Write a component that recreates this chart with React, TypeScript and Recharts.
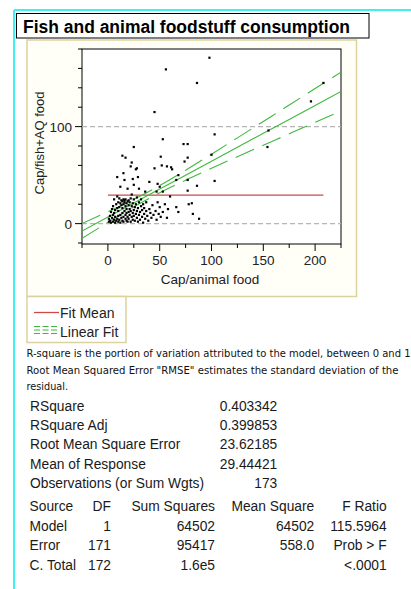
import React from 'react';
import { ComposedChart, Scatter, Line, XAxis, YAxis, ReferenceLine } from 'recharts';

const FONT = '"Liberation Sans", Arial, sans-serif';
const SMALL_FONT = '"DejaVu Sans", Verdana, sans-serif';
const GREEN = '#3fb83f';
const RED = '#cc4a4a';
const TAN = '#dcd29e';

// axis ticks
const xTicks = [-25, 0, 25, 50, 75, 100, 125, 150, 175, 200, 225];
const xTickLabels = [0, 50, 100, 150, 200];
const yTicks = [-20, 0, 20, 40, 60, 80, 100, 120, 140, 160, 180];
const yTickLabels = [0, 100];
const yRefLines = [0, 100];

// Fit mean
const fitMeanX = [0, 208];
const fitMeanY = 29.44421;

// Linear fit with confidence band
const fitX = [-25, 0, 25, 50, 75, 100, 125, 150, 175, 200, 225];
const fitCenter = [-7.6, 6.8, 21.2, 35.6, 49.9, 64.3, 78.7, 93.1, 107.4, 121.8, 136.2];
const fitUpper = [0.1, 12.3, 25.0, 39.3, 55.1, 71.6, 88.4, 105.3, 122.2, 139.2, 156.2];
const fitLower = [-15.3, 1.3, 17.3, 31.8, 44.8, 57.0, 69.0, 80.8, 92.6, 104.4, 116.2];

// scatter points [Cap/animal food, Cap/fish+AQ food]
const upperPoints: number[][] = [
  [98, 171], [56, 159], [86, 145], [45, 115], [208, 145], [196, 126], [155, 96], [154, 79],
  [103, 92], [53, 87], [73, 82], [77, 82], [25, 79], [77, 68], [74, 64], [100, 71],
  [51, 69], [52, 60], [57, 59], [61, 58], [62, 56], [45, 57], [14, 70], [17, 68],
  [23, 63], [22, 59], [27, 56], [28, 57], [9, 48], [15, 52], [16, 45], [24, 46],
  [29, 48], [12, 38], [25, 40], [19, 36], [30, 36], [40, 43], [36, 33], [48, 41],
  [50, 38], [47, 33], [53, 33], [68, 50], [66, 45], [77, 45], [86, 39], [103, 44],
  [77, 34], [60, 28], [66, 17], [68, 12], [78, 20], [81, 21], [82, 10], [88, 5],
];
const clusterPoints: number[][] = [
  [1, 2], [1, 5], [2, 8], [2, 3], [3, 12], [3, 1], [4, 6], [4, 15], [5, 2], [5, 9], [5, 18],
  [6, 4], [6, 11], [6, 25], [7, 1], [7, 7], [7, 14], [8, 3], [8, 20], [9, 5], [9, 16],
  [9, 28], [10, 2], [10, 8], [10, 13], [10, 22],
  [11, 4], [11, 17], [11, 26], [12, 1], [12, 9], [12, 21], [13, 6], [13, 19], [13, 24],
  [14, 3], [14, 11], [14, 16], [14, 23], [15, 7], [15, 20], [15, 25], [15, 2], [16, 13],
  [16, 22], [16, 24], [17, 5], [17, 18], [17, 9], [17, 25], [18, 3], [18, 15], [18, 21],
  [18, 11], [19, 23], [19, 7], [19, 2], [20, 12], [20, 24], [20, 5], [20, 19],
  [21, 9], [21, 15], [21, 22], [22, 2], [22, 26], [22, 13], [23, 7], [23, 18], [23, 30],
  [24, 4], [24, 11], [24, 21], [25, 14], [25, 8], [25, 25], [26, 3], [26, 17], [27, 10],
  [27, 20], [28, 6], [28, 13], [28, 27], [29, 2], [29, 16], [30, 9], [30, 22],
  [31, 12], [31, 4], [32, 18], [32, 25], [33, 7], [33, 14], [34, 1], [34, 20], [35, 10],
  [35, 16], [36, 5], [37, 13], [37, 22], [38, 8], [39, 3], [40, 15], [41, 11], [42, 6],
  [43, 19], [44, 9],
  [46, 13], [47, 4], [48, 22], [49, 10], [50, 17], [51, 7], [53, 12], [55, 20], [57, 6], [58, 15],
];

// stats text
const noteLines = [
  'R-square is the portion of variation attributed to the model, between 0 and 1',
  'Root Mean Squared Error "RMSE" estimates the standard deviation of the',
  'residual.',
];
const summaryLabels = ['RSquare', 'RSquare Adj', 'Root Mean Square Error', 'Mean of Response', 'Observations (or Sum Wgts)'];
const summaryValues = ['0.403342', '0.399853', '23.62185', '29.44421', '173'];
const anovaHeader = ['Source', 'DF', 'Sum Squares', 'Mean Square', 'F Ratio'];
const anovaRows = [
  ['Model', '1', '64502', '64502', '115.5964'],
  ['Error', '171', '95417', '558.0', 'Prob > F'],
  ['C. Total', '172', '1.6e5', '', '<.0001'],
];

const scatterData = [...upperPoints, ...clusterPoints].map(([x, y]) => ({ x, y }));
const fitData = fitX.map((x, i) => ({ x, c: fitCenter[i], u: fitUpper[i], l: fitLower[i] }));
const meanData = fitMeanX.map((x) => ({ x, m: fitMeanY }));

const XTick = (props: any) => {
  const { x, y, payload } = props;
  const major = xTickLabels.includes(payload.value);
  return (
    <g>
      <line x1={x} x2={x} y1={y} y2={y + (major ? 7 : 4)} stroke="#000" strokeWidth={1} />
      {major && (
        <text x={x} y={y + 21} textAnchor="middle" fontSize={13.5} fontFamily={FONT} fill="#222">
          {payload.value}
        </text>
      )}
    </g>
  );
};

const YTick = (props: any) => {
  const { x, y, payload } = props;
  const major = yTickLabels.includes(payload.value);
  return (
    <g>
      <line x1={x - (major ? 7 : 4)} x2={x} y1={y} y2={y} stroke="#000" strokeWidth={1} />
      {major && (
        <text x={x - 10} y={y + 5} textAnchor="end" fontSize={13.5} fontFamily={FONT} fill="#222">
          {payload.value}
        </text>
      )}
    </g>
  );
};

const Dot = (props: any) => {
  const { cx, cy } = props;
  return <rect x={cx - 1.1} y={cy - 1.1} width={2.2} height={2.2} fill="#000" />;
};

const PLOT = { left: 82, top: 49, right: 341, bottom: 244 };

export default function App() {
  const tableRight = [111, 215, 314.3, 386.7];
  return (
    <div style={{ position: 'absolute', left: 0, top: 0, width: 411, height: 589, background: '#fff', overflow: 'hidden' }}>
      <svg width={411} height={589} style={{ position: 'absolute', left: 0, top: 0 }}>
        {/* cyan frame */}
        <line x1={14} y1={10} x2={411} y2={10} stroke="#3ff0f0" strokeWidth={2} />
        <line x1={14} y1={10} x2={14} y2={589} stroke="#3ff0f0" strokeWidth={2} />
        {/* title */}
        <rect x={16.5} y={13.5} width={352.5} height={24.5} fill="#fff" stroke="#000" strokeWidth={1} />
        <text x={23} y={33} fontSize={17.5} fontWeight="bold" fontFamily={FONT} fill="#000" textLength={327} lengthAdjust="spacingAndGlyphs">
          Fish and animal foodstuff consumption
        </text>
        {/* chart frame */}
        <rect x={27} y={40} width={329.5} height={256.5} fill="#fffef7" stroke={TAN} strokeWidth={1.5} />
        <rect x={PLOT.left} y={PLOT.top} width={PLOT.right - PLOT.left} height={PLOT.bottom - PLOT.top} fill="#fff" stroke="#000" strokeWidth={1} />
        {/* axis titles */}
        <text x={210} y={284} textAnchor="middle" fontSize={13.5} fontFamily={FONT} fill="#222">Cap/animal food</text>
        <text x={0} y={0} transform="translate(44,143) rotate(-90)" textAnchor="middle" fontSize={13} fontFamily={FONT} fill="#222">Cap/fish+AQ food</text>
        {/* legend */}
        <rect x={27} y={296.5} width={99} height={46} fill="#fff" stroke={TAN} strokeWidth={1.5} />
        <line x1={34} x2={59} y1={312.5} y2={312.5} stroke={RED} strokeWidth={1.3} />
        <text x={60} y={318} fontSize={14} fontFamily={FONT} fill="#222">Fit Mean</text>
        {[326.5, 330, 333.5].map((yy) => (
          <line key={yy} x1={34} x2={59} y1={yy} y2={yy} stroke={GREEN} strokeWidth={1} strokeDasharray="6 2.5" />
        ))}
        <text x={60} y={337} fontSize={14} fontFamily={FONT} fill="#222">Linear Fit</text>
        {/* notes */}
        <text x={26.5} y={357} fontSize={10} fontFamily={SMALL_FONT} fill="#111" textLength={384} lengthAdjust="spacingAndGlyphs">{noteLines[0]}</text>
        <text x={26.5} y={373.5} fontSize={10} fontFamily={SMALL_FONT} fill="#111" textLength={372} lengthAdjust="spacingAndGlyphs">{noteLines[1]}</text>
        <text x={26.5} y={389.5} fontSize={10} fontFamily={SMALL_FONT} fill="#111" textLength={41.5} lengthAdjust="spacingAndGlyphs">{noteLines[2]}</text>
        {/* summary of fit */}
        {summaryLabels.map((lab, i) => (
          <g key={lab}>
            <text x={30} y={410.7 + i * 19.35} fontSize={13.8} fontFamily={FONT} fill="#1a1a1a">{lab}</text>
            <text x={277.3} y={410.7 + i * 19.35} textAnchor="end" fontSize={13.8} fontFamily={FONT} fill="#1a1a1a">{summaryValues[i]}</text>
          </g>
        ))}
        {/* anova */}
        {[anovaHeader, ...anovaRows].map((row, r) => (
          <g key={r}>
            {row.map((cell, c) =>
              c === 0 ? (
                <text key={c} x={29.5} y={511 + r * 19.6} fontSize={13.8} fontFamily={FONT} fill="#1a1a1a">{cell}</text>
              ) : (
                <text key={c} x={tableRight[c - 1]} y={511 + r * 19.6} textAnchor="end" fontSize={13.8} fontFamily={FONT} fill="#1a1a1a">{cell}</text>
              )
            )}
          </g>
        ))}
      </svg>
      <div style={{ position: 'absolute', left: 0, top: 0 }}>
        <ComposedChart
          width={411}
          height={300}
          margin={{ top: PLOT.top, right: 411 - PLOT.right, left: PLOT.left - 60, bottom: 300 - PLOT.bottom - 40 }}
        >
          <XAxis
            dataKey="x"
            type="number"
            domain={[-25, 225]}
            ticks={xTicks}
            interval={0}
            allowDataOverflow
            height={40}
            axisLine={false}
            tickLine={false}
            tickSize={0}
            tickMargin={0}
            tick={<XTick />}
          />
          <YAxis
            type="number"
            domain={[-21, 180]}
            ticks={yTicks}
            interval={0}
            allowDataOverflow
            width={60}
            axisLine={false}
            tickLine={false}
            tickSize={0}
            tickMargin={0}
            tick={<YTick />}
          />
          {yRefLines.map((v) => (
            <ReferenceLine key={v} y={v} stroke="#b4b4b4" strokeWidth={1.3} strokeDasharray="5 3" />
          ))}
          <Scatter data={scatterData} dataKey="y" fill="#000" shape={<Dot />} isAnimationActive={false} />
          <Line data={meanData} dataKey="m" stroke={RED} strokeWidth={1.3} dot={false} activeDot={false} isAnimationActive={false} type="linear" />
          <Line data={fitData} dataKey="u" stroke={GREEN} strokeWidth={1.1} strokeDasharray="20 9" dot={false} activeDot={false} isAnimationActive={false} type="monotone" />
          <Line data={fitData} dataKey="c" stroke={GREEN} strokeWidth={1.1} dot={false} activeDot={false} isAnimationActive={false} type="linear" />
          <Line data={fitData} dataKey="l" stroke={GREEN} strokeWidth={1.1} strokeDasharray="20 9" dot={false} activeDot={false} isAnimationActive={false} type="monotone" />
        </ComposedChart>
      </div>
    </div>
  );
}
